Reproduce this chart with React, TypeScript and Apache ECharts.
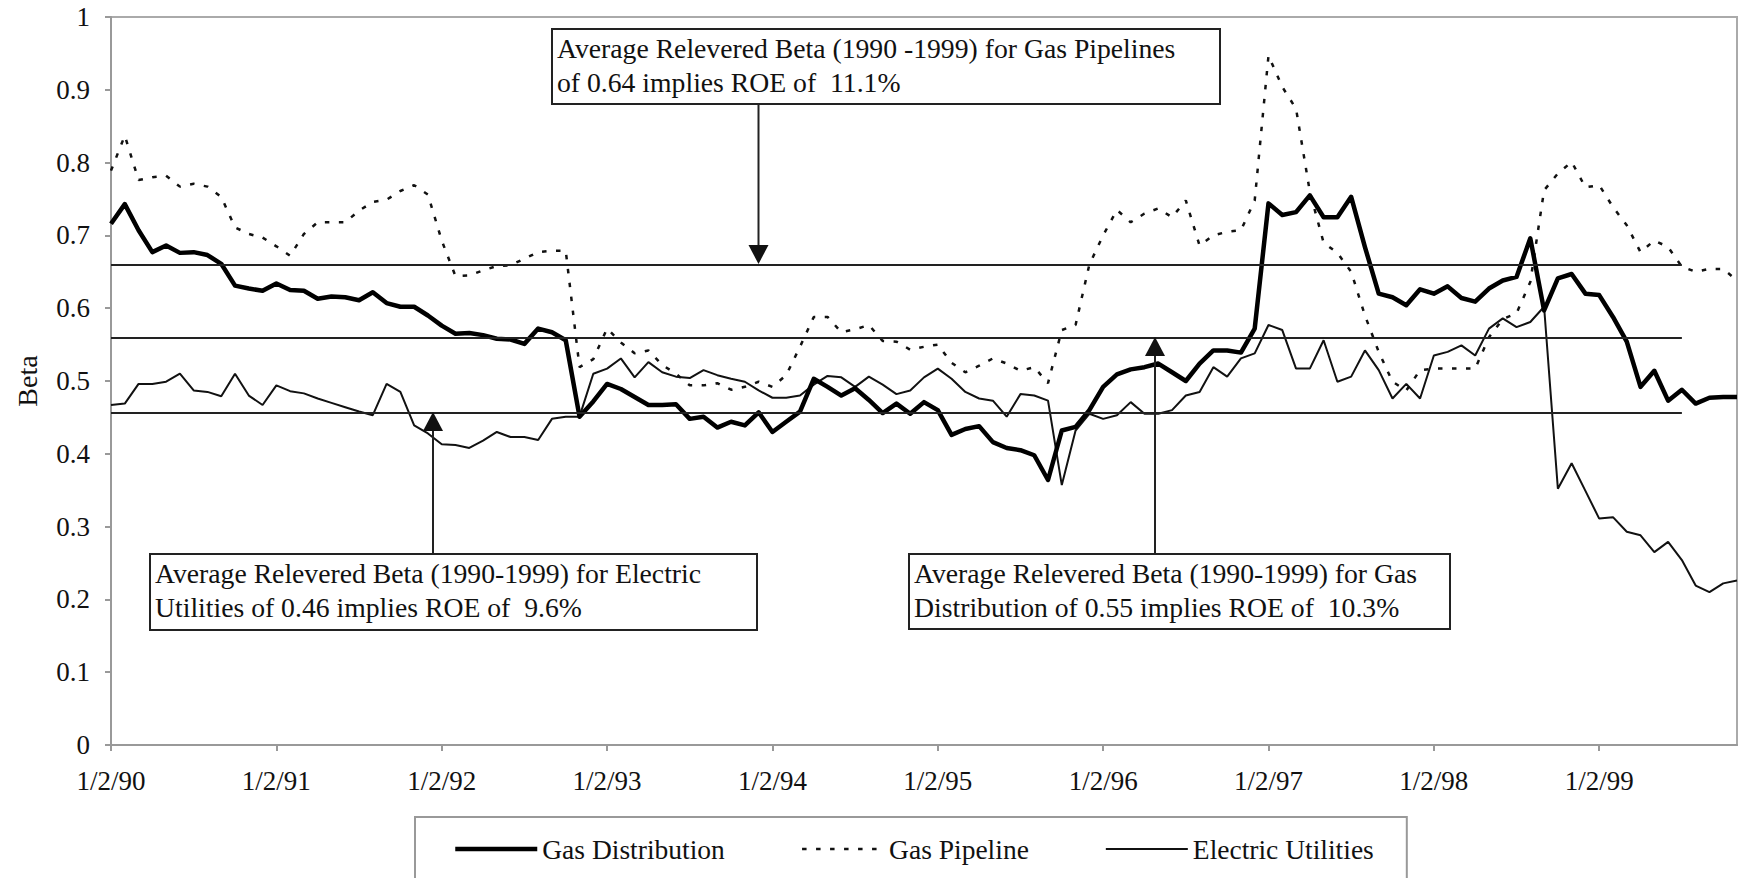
import React, { useEffect, useRef } from "react";
import * as echarts from "echarts";

const FONT = "'Liberation Serif', 'Times New Roman', serif";

// Monthly relevered betas, Jan 1990 - Nov 1999
const gasDistribution = [
  0.716, 0.743, 0.707, 0.677, 0.686, 0.676, 0.677, 0.673, 0.661, 0.631,
  0.627, 0.624, 0.634, 0.625, 0.624, 0.613, 0.616, 0.615, 0.611, 0.622,
  0.607, 0.602, 0.602, 0.590, 0.576, 0.565, 0.566, 0.563, 0.558, 0.557,
  0.551, 0.572, 0.567, 0.556, 0.451, 0.472, 0.496, 0.489, 0.478, 0.467,
  0.467, 0.468, 0.448, 0.451, 0.436, 0.444, 0.439, 0.457, 0.430, 0.444,
  0.458, 0.503, 0.492, 0.480, 0.490, 0.474, 0.456, 0.469, 0.455, 0.471,
  0.460, 0.426, 0.434, 0.438, 0.416, 0.408, 0.405, 0.398, 0.364, 0.432,
  0.437, 0.460, 0.492, 0.509, 0.516, 0.519, 0.524, 0.512, 0.500, 0.524,
  0.542, 0.542, 0.539, 0.572, 0.744, 0.728, 0.732, 0.755, 0.725, 0.725,
  0.753, 0.684, 0.620, 0.615, 0.604, 0.626, 0.620, 0.630, 0.614, 0.609,
  0.627, 0.638, 0.643, 0.696, 0.597, 0.641, 0.647, 0.620, 0.618, 0.588,
  0.554, 0.492, 0.514, 0.473, 0.488, 0.469, 0.477, 0.478, 0.478,
];

const gasPipeline = [
  0.789, 0.837, 0.776, 0.780, 0.782, 0.767, 0.771, 0.767, 0.753, 0.711,
  0.702, 0.697, 0.685, 0.672, 0.702, 0.718, 0.718, 0.718, 0.734, 0.746,
  0.749, 0.761, 0.769, 0.756, 0.693, 0.644, 0.645, 0.652, 0.658, 0.659,
  0.668, 0.677, 0.679, 0.679, 0.519, 0.530, 0.572, 0.553, 0.538, 0.542,
  0.522, 0.510, 0.494, 0.494, 0.497, 0.488, 0.492, 0.499, 0.492, 0.508,
  0.547, 0.588, 0.588, 0.567, 0.571, 0.577, 0.555, 0.554, 0.543, 0.547,
  0.550, 0.525, 0.512, 0.521, 0.531, 0.524, 0.514, 0.519, 0.497, 0.570,
  0.577, 0.660, 0.700, 0.735, 0.718, 0.730, 0.737, 0.725, 0.748, 0.686,
  0.700, 0.705, 0.707, 0.748, 0.947, 0.904, 0.874, 0.760, 0.690, 0.676,
  0.650, 0.590, 0.540, 0.499, 0.487, 0.515, 0.517, 0.517, 0.517, 0.517,
  0.560, 0.585, 0.593, 0.636, 0.762, 0.785, 0.801, 0.766, 0.769, 0.739,
  0.714, 0.677, 0.693, 0.684, 0.657, 0.650, 0.654, 0.654, 0.638,
];

const electricUtilities = [
  0.467, 0.469, 0.496, 0.496, 0.499, 0.510, 0.487, 0.485, 0.479, 0.510,
  0.480, 0.467, 0.494, 0.486, 0.483, 0.476, 0.470, 0.464, 0.458, 0.453,
  0.496, 0.485, 0.439, 0.428, 0.413, 0.412, 0.408, 0.418, 0.430, 0.423,
  0.423, 0.419, 0.448, 0.451, 0.451, 0.510, 0.517, 0.531, 0.505, 0.526,
  0.512, 0.506, 0.504, 0.515, 0.508, 0.503, 0.499, 0.487, 0.477, 0.477,
  0.480, 0.495, 0.507, 0.505, 0.492, 0.506, 0.495, 0.482, 0.487, 0.505,
  0.517, 0.503, 0.485, 0.476, 0.473, 0.451, 0.482, 0.480, 0.473, 0.357,
  0.432, 0.455, 0.448, 0.453, 0.471, 0.455, 0.455, 0.460, 0.480, 0.485,
  0.519, 0.506, 0.531, 0.538, 0.577, 0.570, 0.517, 0.517, 0.556, 0.499,
  0.506, 0.542, 0.515, 0.476, 0.496, 0.476, 0.535, 0.540, 0.549, 0.535,
  0.572, 0.586, 0.574, 0.581, 0.602, 0.352, 0.387, 0.349, 0.311, 0.313,
  0.293, 0.288, 0.265, 0.279, 0.254, 0.219, 0.210, 0.222, 0.226,
];

// Monthly categories, "1/2/90" on each January
const monthLabels = gasDistribution.map((_, i) => {
  const yy = 90 + Math.floor(i / 12);
  const m = (i % 12) + 1;
  return `${m}/${m === 1 ? 2 : 1}/${yy}`;
});

// Average reference lines as drawn (value, last category index)
const avgPipelineLine = 0.66;
const avgDistributionLine = 0.56;
const avgElectricLine = 0.457;
const avgLineEndIndex = 114;

const seriesNames = ["Gas Distribution", "Gas Pipeline", "Electric Utilities"];

const boxTexts = {
  pipeline: "Average Relevered Beta (1990 -1999) for Gas Pipelines\nof 0.64 implies ROE of  11.1%",
  electric: "Average Relevered Beta (1990-1999) for Electric\nUtilities of 0.46 implies ROE of  9.6%",
  distribution: "Average Relevered Beta (1990-1999) for Gas\nDistribution of 0.55 implies ROE of  10.3%",
};

function hLine(value: number) {
  return {
    silent: true,
    symbol: "none",
    label: { show: false },
    lineStyle: { color: "#222", width: 2, type: "solid" },
    data: [[{ coord: [monthLabels[0], value] }, { coord: [monthLabels[avgLineEndIndex], value] }]],
  };
}

function box(x: number, y: number, w: number, h: number, text: string) {
  return [
    {
      type: "rect",
      z: 20,
      shape: { x, y, width: w, height: h },
      style: { fill: "#fff", stroke: "#222", lineWidth: 2 },
    },
    {
      type: "text",
      z: 21,
      x: x + 5,
      y: y + 2,
      style: {
        text,
        fontFamily: FONT,
        fontSize: 27.7,
        lineHeight: 34,
        fill: "#111",
        align: "left",
        verticalAlign: "top",
      },
    },
  ];
}

function arrow(x: number, yFrom: number, yTip: number) {
  const dir = yTip > yFrom ? 1 : -1;
  const base = yTip - dir * 19;
  return [
    {
      type: "line",
      z: 20,
      shape: { x1: x, y1: yFrom, x2: x, y2: base },
      style: { stroke: "#222", lineWidth: 2 },
    },
    {
      type: "polygon",
      z: 20,
      shape: { points: [[x - 10, base], [x + 10, base], [x, yTip]] },
      style: { fill: "#111" },
    },
  ];
}

const everyYear = (index: number) => index % 12 === 0;

export default function App() {
  const ref = useRef<HTMLDivElement>(null);
  useEffect(() => {
    const chart = echarts.init(ref.current!, undefined, { renderer: "svg" });
    const option = {
      animation: false,
      backgroundColor: "#fff",
      textStyle: { fontFamily: FONT },
      grid: {
        left: 111,
        right: 1,
        top: 17,
        bottom: 133,
        show: true,
        borderColor: "#aaa",
        borderWidth: 2,
      },
      xAxis: {
        type: "category",
        data: monthLabels,
        boundaryGap: false,
        axisLine: { lineStyle: { color: "#999", width: 2 } },
        axisTick: { interval: everyYear, length: 6, lineStyle: { color: "#999", width: 2 } },
        axisLabel: {
          interval: everyYear,
          margin: 22,
          color: "#111",
          fontFamily: FONT,
          fontSize: 27,
        },
        splitLine: { show: false },
      },
      yAxis: {
        type: "value",
        min: 0,
        max: 1,
        interval: 0.1,
        name: "Beta",
        nameLocation: "middle",
        nameGap: 70,
        nameTextStyle: { color: "#111", fontFamily: FONT, fontSize: 28 },
        axisLine: { show: true, lineStyle: { color: "#999", width: 2 } },
        axisTick: { show: true, length: 6, lineStyle: { color: "#999", width: 2 } },
        axisLabel: {
          margin: 21,
          color: "#111",
          fontFamily: FONT,
          fontSize: 27,
          formatter: (v: number) => String(Math.round(v * 10) / 10),
        },
        splitLine: { show: false },
      },
      legend: {
        left: 415,
        top: 817,
        orient: "horizontal",
        padding: [18, 33, 40, 38],
        itemGap: 76,
        itemWidth: 82,
        itemHeight: 14,
        borderColor: "#999",
        borderWidth: 2,
        itemStyle: { opacity: 0 },
        textStyle: { color: "#111", fontFamily: FONT, fontSize: 27.5 },
        data: [
          { name: seriesNames[0], lineStyle: { width: 4.5, color: "#000", type: "solid" } },
          { name: seriesNames[1], lineStyle: { width: 2.5, color: "#111", type: [4.5, 9.5] } },
          { name: seriesNames[2], lineStyle: { width: 2, color: "#111", type: "solid" } },
        ],
      },
      series: [
        {
          name: seriesNames[0],
          type: "line",
          data: gasDistribution,
          symbol: "none",
          z: 4,
          itemStyle: { color: "#000" },
          lineStyle: { color: "#000", width: 4.5, join: "round" },
          markLine: hLine(avgDistributionLine),
        },
        {
          name: seriesNames[1],
          type: "line",
          data: gasPipeline,
          symbol: "none",
          z: 3,
          itemStyle: { color: "#111" },
          lineStyle: { color: "#111", width: 2.5, type: [4.5, 9.5] },
          markLine: hLine(avgPipelineLine),
        },
        {
          name: seriesNames[2],
          type: "line",
          data: electricUtilities,
          symbol: "none",
          z: 3,
          itemStyle: { color: "#111" },
          lineStyle: { color: "#111", width: 2 },
          markLine: hLine(avgElectricLine),
        },
      ],
      graphic: [
        ...box(552, 29, 668, 75, boxTexts.pipeline),
        ...arrow(758.5, 104, 264),
        ...box(150, 554, 607, 76, boxTexts.electric),
        ...arrow(433, 554, 412),
        ...box(909, 554, 541, 75, boxTexts.distribution),
        ...arrow(1155, 554, 337),
      ],
    };
    chart.setOption(option as any);
    return () => chart.dispose();
  }, []);
  return (
    <div
      ref={ref}
      style={{ position: "fixed", left: 0, top: 0, width: 1738, height: 878, background: "#fff" }}
    />
  );
}
